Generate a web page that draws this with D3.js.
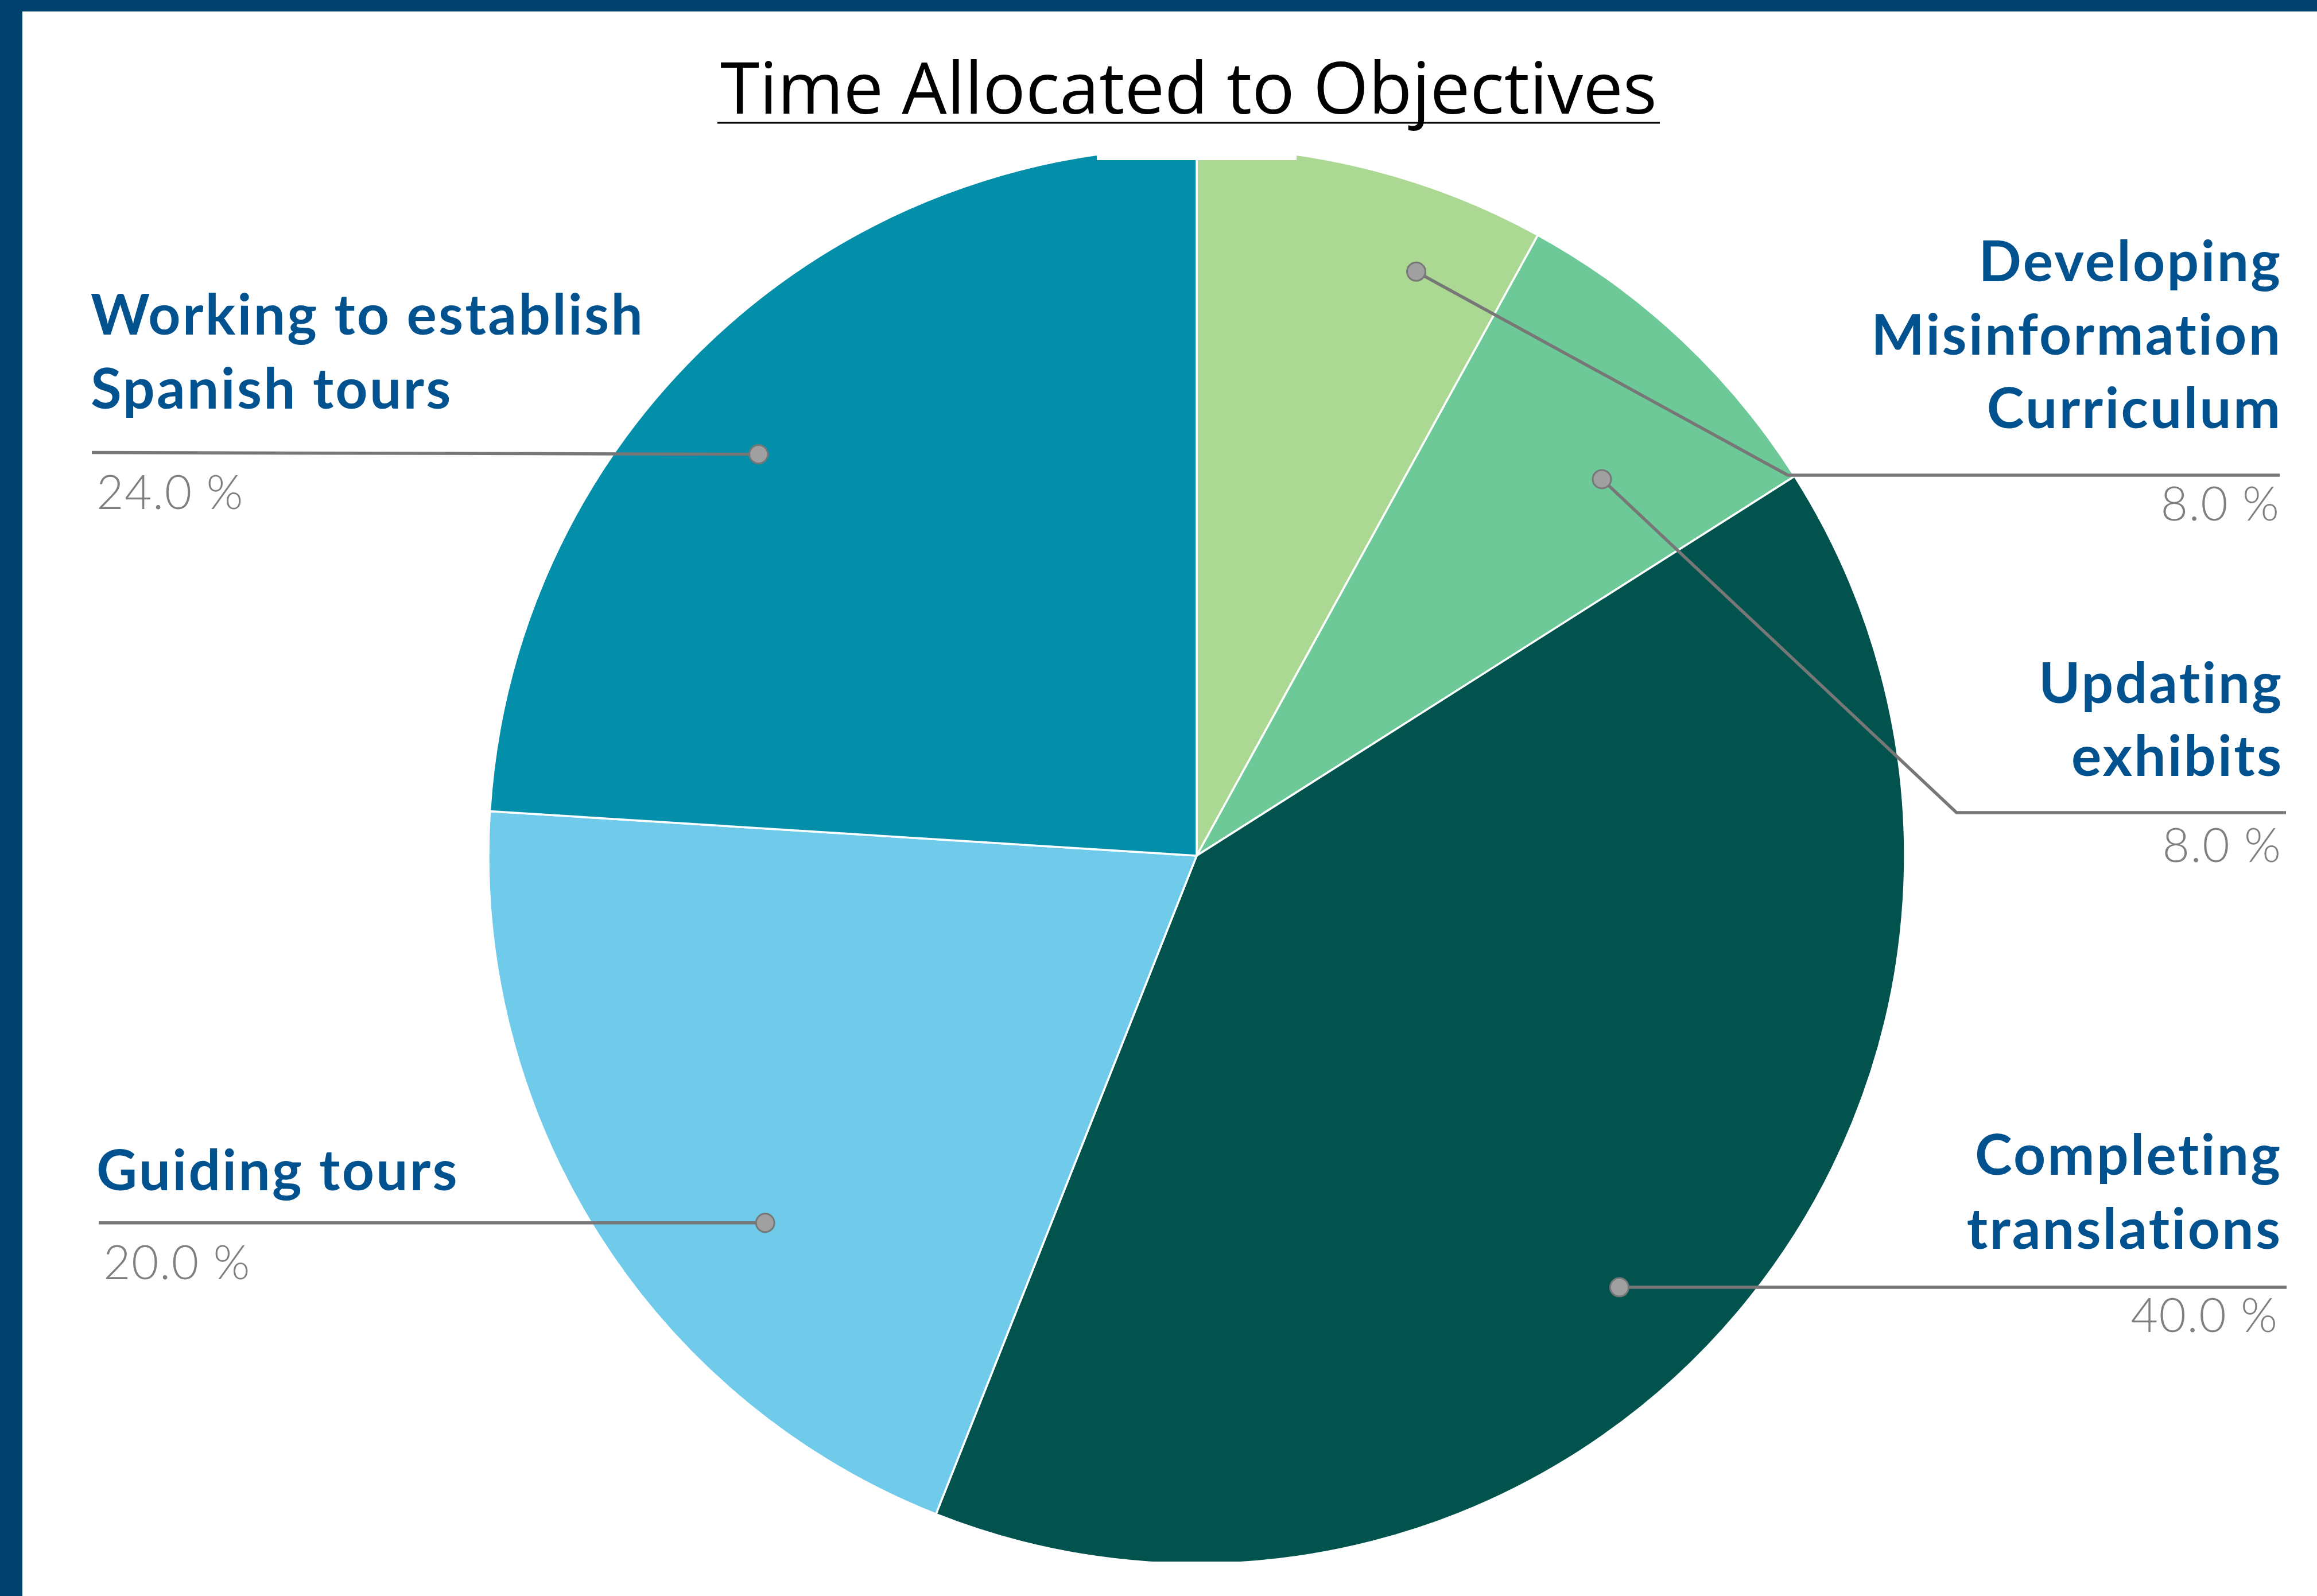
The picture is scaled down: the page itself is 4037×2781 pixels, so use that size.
<!DOCTYPE html>
<html>
<head>
<meta charset="utf-8">
<script src="https://cdn.jsdelivr.net/npm/d3@7"></script>
<style>
  html, body { margin: 0; padding: 0; background: #ffffff; }
  svg { display: block; }
  text { font-variant-ligatures: none; font-feature-settings: "liga" 0; }
</style>
</head>
<body>
<script>
// ---- Data -------------------------------------------------------------
const categories = [
  "Developing Misinformation Curriculum",
  "Updating exhibits",
  "Completing translations",
  "Guiding tours",
  "Working to establish Spanish tours"
];
const shares = [8, 8, 40, 20, 24];
const labelLines = [
  ["Developing", "Misinformation", "Curriculum"],
  ["Updating", "exhibits"],
  ["Completing", "translations"],
  ["Guiding tours"],
  ["Working to establish", "Spanish tours"]
];
const sliceColors = ["#abd993", "#6dca98", "#02534e", "#70cbeb", "#038eaa"];
const chartTitle = "Time Allocated to Objectives";

// ---- Layout -----------------------------------------------------------
const W = 4037, H = 2781;
const cx = 2085, cy = 1491, R = 1234;

// callout placement: dot in polar terms (degrees clockwise from 12 o'clock,
// fraction of radius), optional elbow, outer end of the rule and text spots
const callouts = [
  { dotAngle: 20.6, dotR: 0.881, elbow: [3115, 828], end: 3972, anchor: "end",
    textX: 3973, baselines: [490, 618, 746], pctX: 3971, pctY: 907 },
  { dotAngle: 47.1, dotR: 0.781, elbow: [3409, 1416], end: 3983, anchor: "end",
    textX: 3975, baselines: [1225, 1352], pctX: 3974, pctY: 1502 },
  { dotAngle: 135.6, dotR: 0.853, elbow: null, end: 3984, anchor: "end",
    textX: 3973, baselines: [2047, 2176], pctX: 3968, pctY: 2321 },
  { dotAngle: 229.6, dotR: 0.800, elbow: null, end: 172, anchor: "start",
    textX: 168, baselines: [2074], pctX: 180, pctY: 2229 },
  { dotAngle: 312.5, dotR: 0.839, elbow: null, end: 160, endDy: -3, anchor: "start",
    textX: 158, baselines: [583, 712], pctX: 168, pctY: 887 }
];

const svg = d3.select("body").append("svg")
  .attr("width", W).attr("height", H);

svg.append("rect").attr("width", W).attr("height", H).attr("fill", "#ffffff");

// frame bands
svg.append("rect").attr("x", 0).attr("y", 0).attr("width", W).attr("height", 20).attr("fill", "#02426e");
svg.append("rect").attr("x", 0).attr("y", 0).attr("width", 39).attr("height", H).attr("fill", "#02426e");

// plot area clip
const defs = svg.append("defs");
defs.append("clipPath").attr("id", "plot-clip")
  .append("rect").attr("x", 39).attr("y", 270).attr("width", W - 39).attr("height", 2721 - 270);

// ---- Pie --------------------------------------------------------------
const pie = d3.pie().sort(null).value(d => d)
  .startAngle(0).endAngle(2 * Math.PI);
const arcs = pie(shares);
const arc = d3.arc().innerRadius(0).outerRadius(R);

const pieG = svg.append("g").attr("clip-path", "url(#plot-clip)")
  .append("g").attr("transform", `translate(${cx},${cy})`);

pieG.selectAll("path.slice")
  .data(arcs)
  .join("path")
  .attr("class", "slice")
  .attr("d", arc)
  .attr("fill", (d, i) => sliceColors[i])
  .attr("stroke", "#ffffff")
  .attr("stroke-width", 3.5)
  .attr("stroke-linejoin", "miter");

// title box overlaps the top of the plot
svg.append("rect").attr("x", 1911).attr("y", 240).attr("width", 348).attr("height", 39).attr("fill", "#ffffff");

// ---- Title ------------------------------------------------------------
svg.append("text")
  .attr("x", (1250 + 2892) / 2).attr("y", 198)
  .attr("text-anchor", "middle")
  .attr("font-family", "'Open Sans', 'Noto Sans', sans-serif")
  .attr("font-size", 124)
  .attr("fill", "#000000")
  .text(chartTitle);
svg.append("line")
  .attr("x1", 1250).attr("x2", 2892).attr("y1", 214).attr("y2", 214)
  .attr("stroke", "#000000").attr("stroke-width", 3);

// ---- Callouts ---------------------------------------------------------
const fmt = d3.format(".1f");
const polar = (deg, r) => {
  const a = deg * Math.PI / 180;
  return [cx + r * Math.sin(a), cy - r * Math.cos(a)];
};

const callG = svg.append("g");
callouts.forEach((c, i) => {
  const dot = polar(c.dotAngle, c.dotR * R);
  const pts = [dot];
  let lineY = dot[1];
  if (c.elbow) { pts.push(c.elbow); lineY = c.elbow[1]; }
  pts.push([c.end, lineY + (c.endDy || 0)]);

  callG.append("path")
    .attr("d", d3.line()(pts))
    .attr("fill", "none")
    .attr("stroke", "#777777")
    .attr("stroke-width", 5.5)
    .attr("stroke-linejoin", "miter");

  callG.append("circle")
    .attr("cx", dot[0]).attr("cy", dot[1]).attr("r", 16)
    .attr("fill", "#a0a0a0")
    .attr("stroke", "#777777").attr("stroke-width", 3);

  // trailing letter-spacing would shift end-anchored text, so offset it
  const ls = 3.3;
  const t = callG.append("text")
    .attr("text-anchor", c.anchor)
    .attr("font-family", "Lato, 'Noto Sans', sans-serif")
    .attr("font-weight", 700)
    .attr("font-size", 98)
    .attr("letter-spacing", ls)
    .attr("fill", "#02528f");
  labelLines[i].forEach((line, k) => {
    t.append("tspan")
      .attr("x", c.anchor === "end" ? c.textX + ls : c.textX)
      .attr("y", c.baselines[k]).text(line);
  });

  const pls = 1.5;
  callG.append("text")
    .attr("x", c.anchor === "end" ? c.pctX + pls : c.pctX).attr("y", c.pctY)
    .attr("text-anchor", c.anchor)
    .attr("font-family", "Lato, 'Noto Sans', sans-serif")
    .attr("font-weight", 300)
    .attr("font-size", 82)
    .attr("letter-spacing", pls)
    .attr("fill", "#7f7f7f")
    .text(fmt(shares[i]) + " %");
});
</script>
</body>
</html>
